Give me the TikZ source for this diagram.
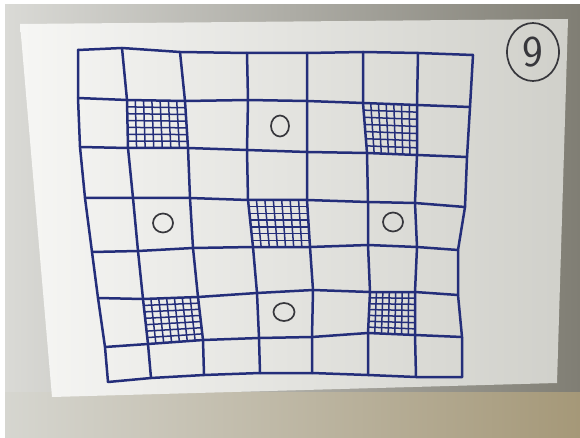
\documentclass[tikz,border=0pt]{standalone}
\usepackage{tikz}
\usetikzlibrary{calc,shapes.geometric}
\definecolor{ink}{RGB}{36,46,122}
\definecolor{pencil}{RGB}{55,55,60}
\definecolor{bgleft}{RGB}{218,218,214}
\definecolor{bgright}{RGB}{128,126,116}
\definecolor{floorleft}{RGB}{214,214,208}
\definecolor{floorright}{RGB}{165,152,120}
\definecolor{paperleft}{RGB}{246,246,244}
\definecolor{paperright}{RGB}{208,208,202}
\tikzset{
  pen/.style     = {draw=ink, line width=2.5pt, line join=round, line cap=round},
  mesh/.style    = {draw=ink, line width=1.5pt},
  ring/.style    = {draw=pencil, ellipse, line width=1.7pt, inner sep=0pt,
                    minimum width=20pt, minimum height=19pt},
  numring/.style = {draw=pencil, ellipse, line width=1.7pt, inner sep=0pt,
                    minimum width=52pt, minimum height=58pt, text=pencil,
                    font=\sffamily\fontsize{44}{44}\selectfont},
}

\begin{document}
\begin{tikzpicture}[x=1pt, y=-1pt]
  \useasboundingbox (0,0) rectangle (580,438);
  \fill[white] (0,0) rectangle (580,438);
  \shade[left color=bgleft, right color=bgright] (5,5) rectangle (580,438);
  \shade[left color=floorleft, right color=floorright] (5,392) rectangle (580,438);
  \shade[left color=paperleft, right color=paperright]
    (20,24) -- (568,19) -- (557,383) -- (52,397) -- cycle;

  \foreach \j/\pts in {
      0/{78/50,122/48,180/52,247/53,307/53,363/52,418/53,473/55},
      1/{78/98,127/100,185/101,248/100,307/101,363/103,417/105,470/107},
      2/{80/147,128/148,188/148,247/150,307/152,367/153,417/155,467/157},
      3/{85/198,133/198,190/198,248/200,307/200,368/202,415/203,465/207},
      4/{92/252,138/251,193/248,253/247,310/247,368/245,417/247,458/250},
      5/{98/298,143/299,198/297,257/293,313/290,370/292,415/292,458/295},
      6/{105/347,148/344,203/340,259/338,312/337,368/333,415/335,462/337},
      7/{108/382,151/378,204/375,260/373,312/373,368/375,416/377,462/377}}
    \foreach \x/\y [count=\i from 0] in \pts
      \coordinate (p\i\j) at (\x,\y);

  \foreach \c/\r/\cc/\rr in {1/1/2/2, 5/1/6/2, 3/3/4/4, 1/5/2/6, 5/5/6/6}
    \foreach \t in {0.143,0.286,0.429,0.571,0.714,0.857} {
      \draw[mesh] ($(p\c\r)!\t!(p\cc\r)$) -- ($(p\c\rr)!\t!(p\cc\rr)$);
      \draw[mesh] ($(p\c\r)!\t!(p\c\rr)$) -- ($(p\cc\r)!\t!(p\cc\rr)$);
    }

  \foreach \j in {0,...,7}
    \draw[pen] (p0\j) \foreach \i in {1,...,7} {-- (p\i\j)};
  \foreach \i in {0,...,7}
    \draw[pen] (p\i0) \foreach \j in {1,...,7} {-- (p\i\j)};

  \node[ring, minimum width=18pt, minimum height=21pt] (dotA) at (280,126) {};
  \node[ring] (dotB) at (163,223) {};
  \node[ring] (dotC) at (393,222) {};
  \node[ring, minimum width=21pt, minimum height=18pt] (dotD) at (284,312) {};
  \node[numring] (num) at (533,52) {9};
\end{tikzpicture}
\end{document}
